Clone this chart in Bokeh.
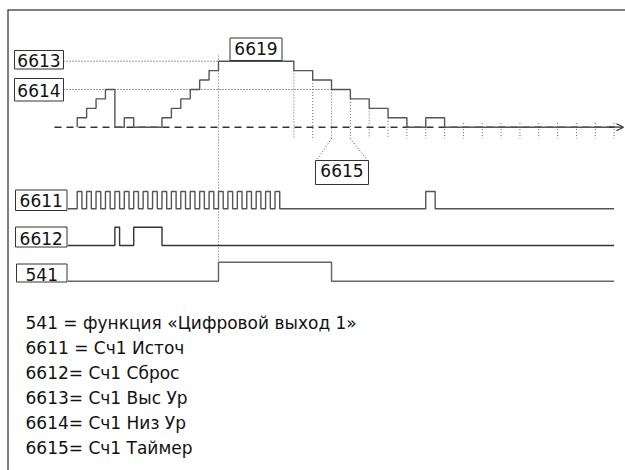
from bokeh.plotting import figure
from bokeh.models import Range1d, Arrow, OpenHead
from bokeh.core.properties import value
from bokeh.embed import file_html
from bokeh.resources import INLINE

# ---------------- data (time in clock units) ----------------
# Counter value (top trace): instants of change and value after each change
COUNTER_T = [0, 1, 2, 3, 4, 5, 6, 9, 10, 11, 12, 13, 14, 15, 23, 25, 27, 29, 31, 33, 35, 37, 39]
COUNTER_V = [1, 2, 3, 4, 0, 1, 0, 1, 2, 3, 4, 5, 6, 7, 6, 5, 4, 3, 2, 1, 0, 1, 0]
LEVEL_6613 = 7          # high level
LEVEL_6614 = 4          # low level
T_6614_CROSS = 27       # counter falls to 6614 level
T_6613_REACH = 15       # counter reaches 6613 level
TIMER_TICKS = [23, 25, 27, 29, 31, 33, 35, 37, 39, 41, 43, 45, 47, 49, 51, 53, 55, 57]
TIMER_CALLOUT = [27, 29]   # ticks pointed at by 6615

# 6611 source pulses (start, end)
SRC_START = [0, 1, 2, 3, 4, 5, 6, 7, 8, 9, 10, 11, 12, 13, 14, 15, 16, 17, 18, 19, 20, 21, 37]
SRC_END = [0.5, 1.5, 2.5, 3.5, 4.5, 5.5, 6.5, 7.5, 8.5, 9.5, 10.5, 11.5, 12.5, 13.5, 14.5,
           15.5, 16.5, 17.5, 18.5, 19.5, 20.5, 21.5, 38]
# 6612 reset pulses
RST_START = [4, 6]
RST_END = [4.5, 9]
# 541 digital output
OUT_START = [15]
OUT_END = [27]

T_BEGIN = -1
T_END = 57

BOX_LABELS = ["6613", "6614", "6619", "6611", "6612", "541", "6615"]
LEGEND = [
    "541 = функция «Цифровой выход 1»",
    "6611 = Сч1 Источ",
    "6612= Сч1 Сброс",
    "6613= Сч1 Выс Ур",
    "6614= Сч1 Низ Ур",
    "6615= Сч1 Таймер",
]

# ---------------- layout (pixels) ----------------
W, H = 625, 470
X0, U = 76.7, 9.42          # pixel of t=0 and pixels per time unit
TEXT_SHIFT = -6.5           # baseline correction for the text glyphs


def px2t(px):
    return (px - X0) / U


def row_range(base_px, unit_px):
    end = base_px / unit_px
    return Range1d(start=end - H / unit_px, end=end)


FONT = value("DejaVu Sans")
LINE = "#555555"

p = figure(width=W, height=H, output_backend="svg", toolbar_location=None,
           x_range=Range1d(px2t(0), px2t(W)), y_range=Range1d(H, 0),
           min_border=0)
p.xaxis.visible = False
p.yaxis.visible = False
p.grid.visible = False
p.outline_line_color = None
p.background_fill_color = "white"
p.border_fill_color = "white"

p.extra_y_ranges = {
    "cnt": row_range(126.7, 9.43),
    "src": row_range(208.3, 17.3),
    "rst": row_range(245.0, 18.3),
    "out": row_range(280.7, 19.0),
}

# frame (top and left border)
p.segment(x0=[px2t(7), px2t(7.5)], y0=[9.5, 9.5], x1=[px2t(640), px2t(7.5)], y1=[9.5, 480],
          line_color="black", line_width=1)

# dashed zero line with arrow
p.segment(x0=[px2t(54)], y0=[0], x1=[px2t(618)], y1=[0], y_range_name="cnt",
          line_color="#333333", line_width=1.4, line_dash="7 5")
p.add_layout(Arrow(end=OpenHead(size=7, line_width=1.2, line_color="#333333"),
                   x_start=56.5, y_start=0, x_end=px2t(623), y_end=0,
                   line_color="#333333", line_width=1.2, y_range_name="cnt"))

# level lines 6613 / 6614
p.segment(x0=[px2t(63), px2t(63)], y0=[LEVEL_6613, LEVEL_6614],
          x1=[T_6613_REACH, T_6614_CROSS], y1=[LEVEL_6613, LEVEL_6614],
          y_range_name="cnt", line_color="#333333", line_width=1, line_dash="1 2")


def value_at(t, before):
    v = 0
    for tt, vv in zip(COUNTER_T, COUNTER_V):
        if tt < t or (tt == t and not before):
            v = vv
    return v


TICK_BOTTOM = (126.7 - 138.0) / 9.43
tick_tops = [max(min(value_at(t, True), value_at(t, False)), 0.45) for t in TIMER_TICKS]
p.segment(x0=TIMER_TICKS, y0=tick_tops, x1=TIMER_TICKS, y1=[TICK_BOTTOM] * len(TIMER_TICKS),
          y_range_name="cnt", line_color="#666666", line_width=1, line_dash="1 2")

# long dotted marker where 6613 is reached
p.segment(x0=[T_6613_REACH], y0=[55], x1=[T_6613_REACH], y1=[262],
          line_color="#666666", line_width=1, line_dash="1 2")

# 6615 callout
p.segment(x0=TIMER_CALLOUT, y0=[138, 138], x1=[px2t(316), px2t(367)], y1=[160, 160],
          line_color="#555555", line_width=1, line_dash="1 2")

# counter step trace
cx = [COUNTER_T[0]] + COUNTER_T + [T_END]
cy = [0] + COUNTER_V + [COUNTER_V[-1]]
p.step(x=cx, y=cy, mode="after", y_range_name="cnt", line_color=LINE, line_width=1.4)


def pulse_path(starts, ends):
    xs, ys = [T_BEGIN], [0]
    for s, e in zip(starts, ends):
        xs += [s, s, e, e]
        ys += [0, 1, 1, 0]
    xs.append(T_END)
    ys.append(0)
    return xs, ys


for starts, ends, rng, col in [(SRC_START, SRC_END, "src", LINE),
                               (RST_START, RST_END, "rst", "#333333"),
                               (OUT_START, OUT_END, "out", "#666666")]:
    xs, ys = pulse_path(starts, ends)
    p.line(x=xs, y=ys, y_range_name=rng, line_color=col, line_width=1.4)

# label boxes (pixel layout)
box_l = [14, 14, 229.5, 15, 15, 16, 315]
box_r = [63, 63, 281.5, 66.5, 66.5, 66.5, 368]
box_t = [50, 78, 37.5, 189.5, 226.5, 263.5, 160]
box_b = [68.5, 100.5, 60, 210, 246.5, 281.5, 184]
text_base = [66.5, 96, 54, 206.5, 244, 280, 176.5]
p.quad(left=[px2t(v) for v in box_l], right=[px2t(v) for v in box_r],
       top=box_t, bottom=box_b, fill_color="white", line_color="#333333", line_width=1)
p.text(x=[px2t((a + b) / 2) for a, b in zip(box_l, box_r)],
       y=[b + TEXT_SHIFT for b in text_base], text=BOX_LABELS,
       text_font=FONT, text_font_size="17px", text_align="center",
       text_baseline="alphabetic", text_color="#111111")

# legend text
p.text(x=[px2t(25)] * len(LEGEND), y=[329 + 25 * i + TEXT_SHIFT for i in range(len(LEGEND))],
       text=LEGEND, text_font=FONT, text_font_size="17px", text_align="left",
       text_baseline="alphabetic", text_color="#111111")

open("out.html", "w").write(file_html(p, INLINE))
